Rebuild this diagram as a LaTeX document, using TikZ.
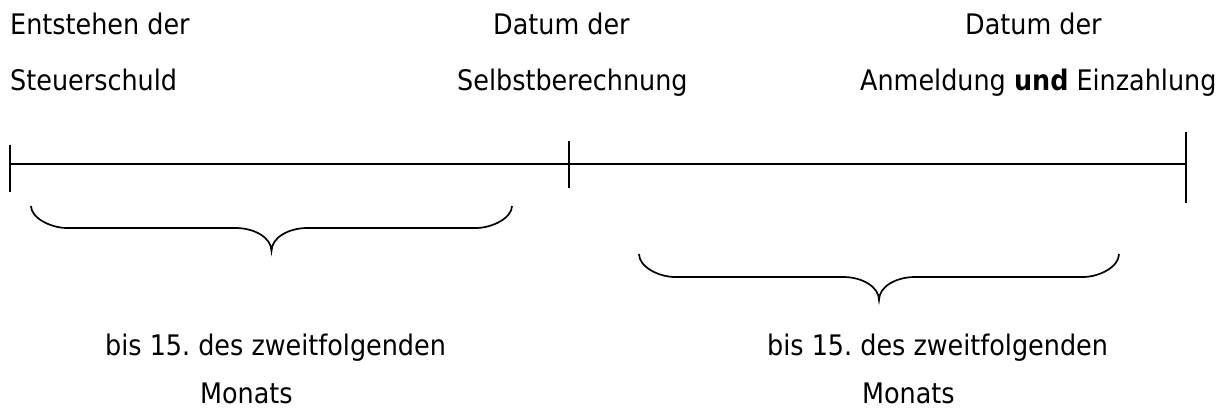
\documentclass[tikz,border=0pt]{standalone}
\usepackage{fontspec}
\setmainfont{DejaVu Sans Condensed}
\frenchspacing
\begin{document}
\begin{tikzpicture}[x=1pt,y=-1pt,
  lbl/.style={anchor=base west,inner sep=0pt,font=\fontsize{28.3}{34}\selectfont},
  axis/.style={line width=1.9pt,line cap=butt},
  brace/.style={line width=1.7pt}]
\useasboundingbox (0,0) rectangle (1228,412);
% labels
\node[lbl] (a1) at (10,35) {Entstehen der};
\node[lbl] (a2) at (10,90) {Steuerschuld};
\node[lbl] (b1) at (493,35) {Datum der};
\node[lbl] (b2) at (457,90) {Selbstberechnung};
\node[lbl] (c1) at (965,35) {Datum der};
\node[lbl] (c2) at (860,90) {Anmeldung \textbf{und} Einzahlung};
\node[lbl] (d1) at (105,355) {bis 15. des zweitfolgenden};
\node[lbl] (d2) at (200,403) {Monats};
\node[lbl] (e1) at (767,355) {bis 15. des zweitfolgenden};
\node[lbl] (e2) at (862,403) {Monats};
% timeline
\coordinate (p0) at (10,164);
\coordinate (p1) at (569,164);
\coordinate (p2) at (1186,164);
\draw[axis] (p0) -- (p2);
\draw[axis] (10,145) -- (10,192);
\draw[axis] (569,141) -- (569,188);
\draw[axis] (1186,132) -- (1186,203);
% brace 1: L=31, R=512, C=271.5, top=206, flat=228, tip=251
\draw[brace] (31,206) .. controls (31,218) and (51,228) .. (67,228)
  -- (235.5,228) .. controls (255,228) and (271.5,238) .. (271.5,251)
  .. controls (271.5,238) and (288,228) .. (307.5,228)
  -- (476,228) .. controls (492,228) and (512,218) .. (512,206);
% brace 2: L=639, R=1119, C=879, top=254, flat=277, tip=300
\draw[brace] (639,254) .. controls (639,267) and (659,277) .. (675,277)
  -- (843,277) .. controls (862.5,277) and (879,287) .. (879,300)
  .. controls (879,287) and (895.5,277) .. (915,277)
  -- (1083,277) .. controls (1099,277) and (1119,267) .. (1119,254);
\end{tikzpicture}
\end{document}
